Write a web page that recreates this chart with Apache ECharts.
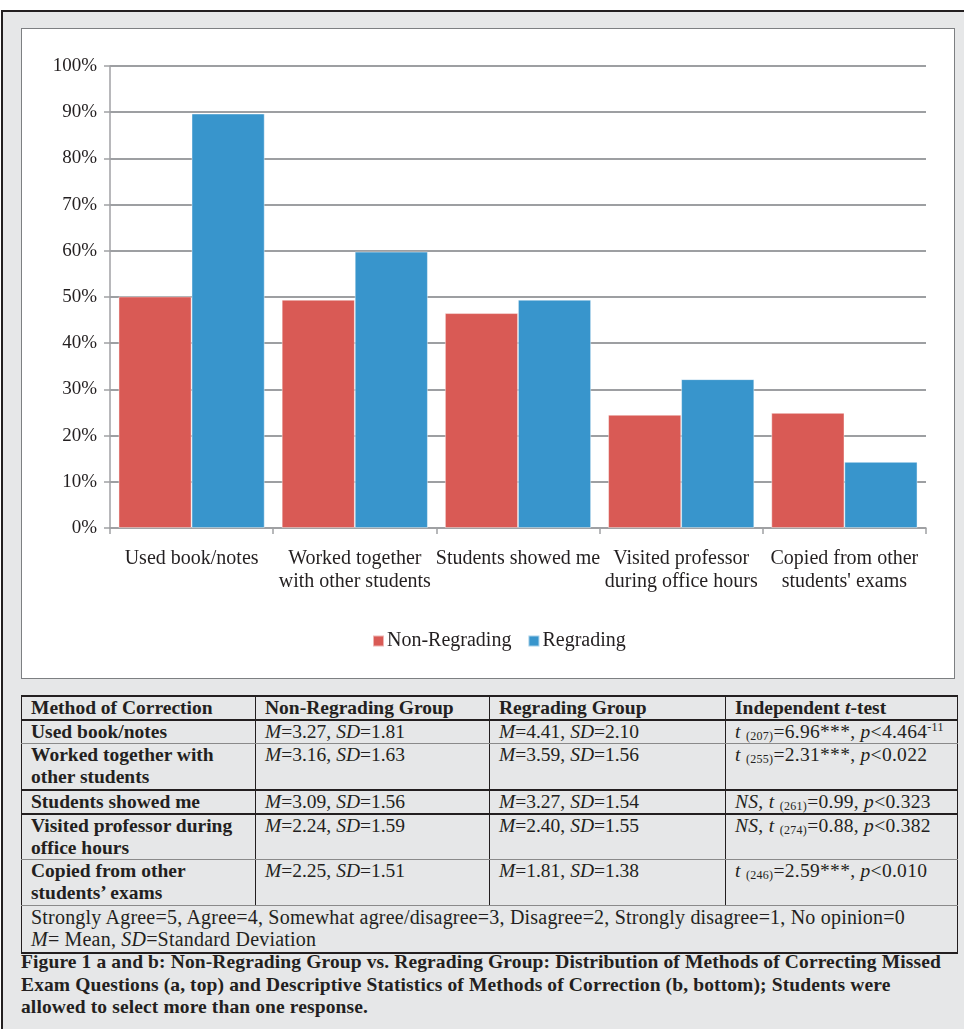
<!DOCTYPE html>
<html>
<head>
<meta charset="utf-8">
<script src="https://cdn.jsdelivr.net/npm/echarts@6/dist/echarts.min.js"></script>
<style>
html,body{margin:0;padding:0;background:#fff;width:964px;height:1029px;overflow:hidden;}
#frame{position:absolute;left:1px;top:10px;width:1000px;height:1100px;background:#e6e7e8;border-left:2px solid #231f20;border-top:2px solid #231f20;}
#chart{position:absolute;left:21px;top:28px;width:934px;height:651px;background:#fff;border:1.5px solid #7d7f82;box-sizing:border-box;}
#tbl{position:absolute;left:21px;top:695px;width:936px;border-collapse:collapse;table-layout:fixed;font-family:"Liberation Serif",serif;font-size:19.5px;color:#231f20;}
#tbl td{border-left:1px solid #231f20;border-right:1px solid #231f20;padding:0 0 0 9px;vertical-align:top;line-height:22px;white-space:nowrap;overflow:hidden;}
#tbl tr.thick td{border-bottom:2.5px solid #231f20;}
#tbl tr.thin td{border-bottom:1px solid #8a8a8a;}
#tbl tr.head td{border-top:2.5px solid #231f20;font-weight:bold;}
#tbl td.m{font-weight:bold;}
#tbl td.n{font-size:20px;letter-spacing:0.2px;}
#tbl td.t{letter-spacing:0.3px;}
#tbl .sb{font-size:12px;vertical-align:-2px;line-height:0;}
#tbl .sp{font-size:12px;vertical-align:7px;line-height:0;}
#caption{position:absolute;left:21px;top:951px;font-family:"Liberation Serif",serif;font-weight:bold;font-size:19.5px;letter-spacing:0.12px;line-height:22.5px;color:#231f20;white-space:nowrap;}
</style>
</head>
<body>
<div id="frame"></div>
<div id="chart"></div>
<table id="tbl"><colgroup><col style="width:234px"><col style="width:234px"><col style="width:236px"><col style="width:232px"></colgroup><tbody id="tbody"></tbody></table>
<div id="caption"></div>
<script>
// chart values (percent of students)
var categories = ['Used book/notes', 'Worked together\nwith other students', 'Students showed me', 'Visited professor\nduring office hours', 'Copied from other\nstudents\' exams'];
var nonRegrading = [50.1, 49.4, 46.5, 24.5, 24.9];
var regrading = [89.7, 59.8, 49.4, 32.2, 14.3];
var seriesNames = ['Non-Regrading', 'Regrading'];

// table (b, bottom)
var tableHead = ['Method of Correction', 'Non-Regrading Group', 'Regrading Group', 'Independent <i>t</i>-test'];
var methods = ['Used book/notes', 'Worked together with<br>other students', 'Students showed me', 'Visited professor during<br>office hours', 'Copied from other<br>students\u2019 exams'];
var nonRegM = ['3.27', '3.16', '3.09', '2.24', '2.25'];
var nonRegSD = ['1.81', '1.63', '1.56', '1.59', '1.51'];
var regM = ['4.41', '3.59', '3.27', '2.40', '1.81'];
var regSD = ['2.10', '1.56', '1.54', '1.55', '1.38'];
var tTests = [
    '<i>t</i> <span class="sb">(207)</span>=6.96***, <i>p</i>&lt;4.464<span class="sp">-11</span>',
    '<i>t</i> <span class="sb">(255)</span>=2.31***, <i>p</i>&lt;0.022',
    '<i>NS</i>, <i>t</i> <span class="sb">(261)</span>=0.99, <i>p</i>&lt;0.323',
    '<i>NS</i>, <i>t</i> <span class="sb">(274)</span>=0.88, <i>p</i>&lt;0.382',
    '<i>t</i> <span class="sb">(246)</span>=2.59***, <i>p</i>&lt;0.010'
];
var rowHeights = [23, 46, 24, 45, 46];
var rowLines = ['thin', 'thick', 'thick', 'thin', 'thin'];
var notes = ['Strongly Agree=5, Agree=4, Somewhat agree/disagree=3, Disagree=2, Strongly disagree=1, No opinion=0',
    '<i>M</i>= Mean, <i>SD</i>=Standard Deviation'];
var captionLines = ['Figure 1 a and b: Non-Regrading Group vs. Regrading Group: Distribution of Methods of Correcting Missed',
    'Exam Questions (a, top) and Descriptive Statistics of Methods of Correction (b, bottom); Students were',
    'allowed to select more than one response.'];

var serif = '"Liberation Serif", "Times New Roman", serif';
var textColor = '#231f20';

var myChart = echarts.init(document.getElementById('chart'), null, {width: 931, height: 648});
var option = {
    animation: false,
    grid: {
        left: 88,
        right: 27,
        top: 37,
        bottom: 149
    },
    legend: {
        data: seriesNames,
        left: 345,
        top: 597,
        icon: 'rect',
        itemWidth: 11,
        itemHeight: 11,
        itemGap: 16,
        textStyle: {fontFamily: serif, fontSize: 20, color: textColor, padding: [0, 0, 0, -2]}
    },
    xAxis: {
        type: 'category',
        data: categories,
        axisLine: {lineStyle: {color: '#a0a1a4', width: 1.5}},
        axisTick: {show: true, length: 6, lineStyle: {color: '#a0a1a4', width: 1.5}},
        axisLabel: {
            interval: 0,
            margin: 19,
            fontFamily: serif,
            fontSize: 20,
            lineHeight: 23,
            color: textColor
        }
    },
    yAxis: {
        type: 'value',
        min: 0,
        max: 100,
        interval: 10,
        axisLine: {show: true, lineStyle: {color: '#a0a1a4', width: 1.5}},
        axisTick: {show: true, length: 6, lineStyle: {color: '#a0a1a4', width: 1.5}},
        axisLabel: {
            formatter: '{value}%',
            margin: 13,
            fontFamily: serif,
            fontSize: 19,
            color: textColor
        },
        splitLine: {lineStyle: {color: '#9d9fa2', width: 2}}
    },
    series: [{
        name: seriesNames[0],
        type: 'bar',
        data: nonRegrading,
        barGap: '0%',
        barCategoryGap: '10.5%',
        itemStyle: {color: '#d95a55', borderColor: 'rgba(255,255,255,0.55)', borderWidth: 0.8}
    }, {
        name: seriesNames[1],
        type: 'bar',
        data: regrading,
        barGap: '0%',
        barCategoryGap: '10.5%',
        itemStyle: {color: '#3895cc', borderColor: 'rgba(255,255,255,0.55)', borderWidth: 0.8}
    }]
};
myChart.setOption(option);

// build the table
var html = '<tr class="head thick" style="height:22px">';
tableHead.forEach(function (h) { html += '<td>' + h + '</td>'; });
html += '</tr>';
methods.forEach(function (m, i) {
    html += '<tr class="' + rowLines[i] + '" style="height:' + rowHeights[i] + 'px">' +
        '<td class="m">' + m + '</td>' +
        '<td><i>M</i>=' + nonRegM[i] + ', <i>SD</i>=' + nonRegSD[i] + '</td>' +
        '<td><i>M</i>=' + regM[i] + ', <i>SD</i>=' + regSD[i] + '</td>' +
        '<td class="t">' + tTests[i] + '</td></tr>';
});
html += '<tr class="thick" style="height:48px"><td class="n" colspan="4">' + notes.join('<br>') + '</td></tr>';
document.getElementById('tbody').innerHTML = html;
document.getElementById('caption').innerHTML = captionLines.join('<br>');
</script>
</body>
</html>
